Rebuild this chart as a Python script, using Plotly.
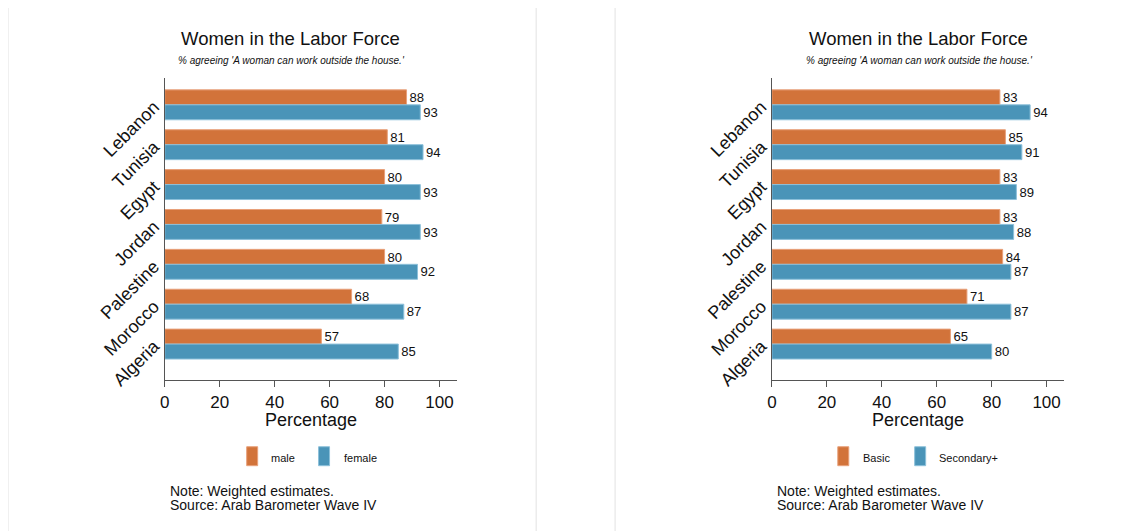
import plotly.graph_objects as go

OFF = 8          # default page body margin
KY = 0.984       # observed vertical scale of the rendered page
KX, AX = 0.997, 3.0
W, H = 1131 - 2 * OFF, 540 - 2 * OFF

countries = ["Lebanon", "Tunisia", "Egypt", "Jordan", "Palestine", "Morocco", "Algeria"]
male = [88, 81, 80, 79, 80, 68, 57]
female = [93, 94, 93, 93, 92, 87, 85]
basic = [83, 85, 83, 83, 84, 71, 65]
secondary = [94, 91, 89, 88, 87, 87, 80]

title = "Women in the Labor Force"
subtitle = "% agreeing 'A woman can work outside the house.'"
xlabel = "Percentage"
note_lines = ["Note: Weighted estimates.", "Source: Arab Barometer Wave IV"]
legend_left = ["male", "female"]
legend_right = ["Basic", "Secondary+"]
x_ticks = [0, 20, 40, 60, 80, 100]

ORANGE = "#d2733a"
BLUE = "#4a94b8"
ORANGE_EDGE = "#e8a07a"
BLUE_EDGE = "#8cc0da"
FONT = "Liberation Sans, Arial, Helvetica, sans-serif"


def px(x):
    return ((x - AX) / KX - OFF) / W


def py(y):
    return 1 - (y / KY - OFF) / H


fig = go.Figure()

panels = [
    dict(series=(male, female), names=legend_left, xa="x", ya="y",
         xdom=(px(163), px(456)), title_x=289, legend_x=(245, 317), legend_text_x=(267, 340), note_x=166,
         frame=(6, 535)),
    dict(series=(basic, secondary), names=legend_right, xa="x2", ya="y2",
         xdom=(px(771), px(1064)), title_x=918, legend_x=(837, 914), legend_text_x=(860, 936), note_x=774,
         frame=(614, None)),
]

shapes = []
annotations = []
FRAME = dict(color="#ececec", width=1.5)

for p in panels:
    s1, s2 = p["series"]
    fig.add_trace(go.Bar(
        y=countries, x=s1, orientation="h", name=p["names"][0],
        marker=dict(color=ORANGE, line=dict(color=ORANGE_EDGE, width=1)),
        text=[str(v) for v in s1], textposition="outside",
        textfont=dict(size=14, color="#111", family=FONT), cliponaxis=False,
        xaxis=p["xa"], yaxis=p["ya"], showlegend=False,
    ))
    fig.add_trace(go.Bar(
        y=countries, x=s2, orientation="h", name=p["names"][1],
        marker=dict(color=BLUE, line=dict(color=BLUE_EDGE, width=1)),
        text=[str(v) for v in s2], textposition="outside",
        textfont=dict(size=14, color="#111", family=FONT), cliponaxis=False,
        xaxis=p["xa"], yaxis=p["ya"], showlegend=False,
    ))
    # panel frame: left, top, right edges
    f0, f1 = p["frame"]
    right = f1 if f1 is not None else 1200
    shapes.append(dict(type="line", xref="paper", yref="paper", x0=px(f0), x1=px(f0),
                       y0=py(6), y1=py(600), line=FRAME, layer="below"))
    shapes.append(dict(type="line", xref="paper", yref="paper", x0=px(f0), x1=px(right),
                       y0=py(6), y1=py(6), line=FRAME, layer="below"))
    if f1 is not None:
        shapes.append(dict(type="line", xref="paper", yref="paper", x0=px(f1), x1=px(f1),
                           y0=py(6), y1=py(600), line=FRAME, layer="below"))
    annotations.append(dict(text=title, x=px(p["title_x"]), y=py(38), xref="paper", yref="paper",
                            showarrow=False, xanchor="center", yanchor="middle",
                            font=dict(size=18.5, color="#111", family=FONT)))
    annotations.append(dict(text="<i>" + subtitle + "</i>", x=px(p["title_x"] + 1), y=py(61),
                            xref="paper", yref="paper", showarrow=False, xanchor="center", yanchor="middle",
                            font=dict(size=10, color="#111", family=FONT)))
    cx = (p["xdom"][0] + p["xdom"][1]) / 2
    annotations.append(dict(text=xlabel, x=cx, y=py(421), xref="paper", yref="paper",
                            showarrow=False, xanchor="center", yanchor="middle",
                            font=dict(size=18, color="#111", family=FONT)))
    for i, (col, edge) in enumerate([(ORANGE, ORANGE_EDGE), (BLUE, BLUE_EDGE)]):
        lx = p["legend_x"][i]
        shapes.append(dict(type="rect", xref="paper", yref="paper",
                           x0=px(lx), x1=px(lx + 11), y0=py(467), y1=py(448),
                           fillcolor=col, line=dict(color=edge, width=1)))
        annotations.append(dict(text=p["names"][i], x=px(p["legend_text_x"][i]), y=py(459),
                                xref="paper", yref="paper", showarrow=False,
                                xanchor="left", yanchor="middle",
                                font=dict(size=11, color="#111", family=FONT)))
    for j, line in enumerate(note_lines):
        annotations.append(dict(text=line, x=px(p["note_x"]), y=py(492 + 14 * j),
                                xref="paper", yref="paper", showarrow=False,
                                xanchor="left", yanchor="middle",
                                font=dict(size=14, color="#111", family=FONT)))

ydom = (py(381), py(78))
xaxis_common = dict(range=[0, 106.5], tickvals=x_ticks, ticks="outside", ticklen=6, tickwidth=1.2,
                    tickcolor="#555", showline=True, linecolor="#555", linewidth=1.3,
                    showgrid=False, zeroline=False, fixedrange=True,
                    tickfont=dict(size=17, color="#111", family=FONT))
yaxis_common = dict(range=[6.9, -0.675], domain=ydom, categoryorder="array", categoryarray=countries,
                    showline=True, linecolor="#555", linewidth=1.3, ticks="", showgrid=False,
                    ticklabelstandoff=6,
                    tickangle=-45, tickfont=dict(size=18, color="#111", family=FONT), fixedrange=True)

fig.update_layout(
    width=W, height=H,
    margin=dict(l=0, r=0, t=0, b=0),
    paper_bgcolor="white", plot_bgcolor="white",
    barmode="group", bargap=0.25, bargroupgap=0,
    xaxis=dict(domain=panels[0]["xdom"], anchor="y", **xaxis_common),
    yaxis=dict(anchor="x", **yaxis_common),
    xaxis2=dict(domain=panels[1]["xdom"], anchor="y2", **xaxis_common),
    yaxis2=dict(anchor="x2", **yaxis_common),
    shapes=shapes,
    annotations=annotations,
    showlegend=False,
)

fig.write_html("out.html")
